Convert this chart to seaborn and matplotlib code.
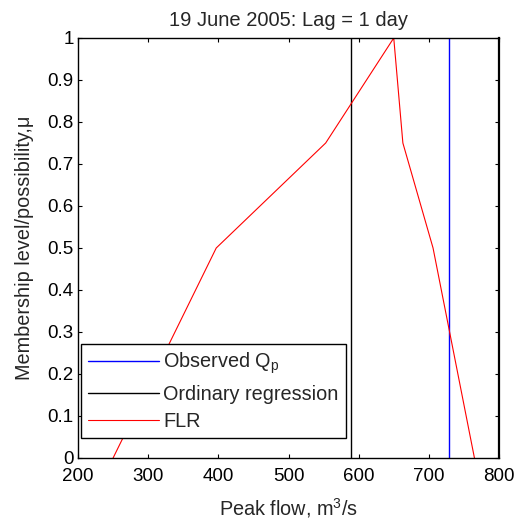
import matplotlib
matplotlib.use("Agg")
import matplotlib.pyplot as plt
import seaborn as sns
import pandas as pd

# Data
flr_x = [250, 397, 553, 650, 663, 706, 765]
flr_mu = [0.0, 0.5, 0.75, 1.0, 0.75, 0.5, 0.0]
observed_qp = 729
ordinary_regression = 589
mu_range = [0.0, 1.0]
x_ticks = [200, 300, 400, 500, 600, 700, 800]
y_ticks = [0, 0.1, 0.2, 0.3, 0.4, 0.5, 0.6, 0.7, 0.8, 0.9, 1]

sns.set_style("ticks")
plt.rcParams['font.family'] = ['Liberation Sans', 'DejaVu Sans']
plt.rcParams['mathtext.fontset'] = 'custom'
plt.rcParams['mathtext.rm'] = 'Liberation Sans'
plt.rcParams['mathtext.it'] = 'Liberation Sans'

fig = plt.figure(figsize=(5.17, 5.21), dpi=100)
ax = fig.add_axes([78/517, (521-458)/521, 421/517, 420/521])

obs_df = pd.DataFrame({"x": [observed_qp, observed_qp], "y": mu_range})
ols_df = pd.DataFrame({"x": [ordinary_regression, ordinary_regression], "y": mu_range})
flr_df = pd.DataFrame({"x": flr_x, "y": flr_mu})

sns.lineplot(data=obs_df, x="x", y="y", ax=ax, color="#0000ff", lw=1.0,
             sort=False, estimator=None, errorbar=None, label="Observed Q$_p$")
sns.lineplot(data=ols_df, x="x", y="y", ax=ax, color="black", lw=1.0,
             sort=False, estimator=None, errorbar=None, label="Ordinary regression")
sns.lineplot(data=flr_df, x="x", y="y", ax=ax, color="#ff0000", lw=0.8,
             sort=False, estimator=None, errorbar=None, label="FLR")

ax.set_xlim(200, 800)
ax.set_ylim(0, 1)
ax.set_xticks(x_ticks)
ax.set_yticks(y_ticks)
ax.set_yticklabels([f"{t:g}" for t in y_ticks])
ax.tick_params(direction="in", top=True, right=True, length=3, width=0.8,
               labelsize=13.5, colors="black", pad=3)
ax.tick_params(axis="x", pad=7)
for s in ax.spines.values():
    s.set_visible(True)
    s.set_color("black")
    s.set_linewidth(1.0)
ax.spines["right"].set_linewidth(1.6)

ax.set_title("19 June 2005: Lag = 1 day", fontsize=14.5, pad=9)
ax.set_xlabel("Peak flow, m$^3$/s", fontsize=14.3, labelpad=8)
ax.set_ylabel("Membership level/possibility,μ", fontsize=14.3, labelpad=10)

leg = ax.legend(loc="lower left", bbox_to_anchor=(0.007, 0.048), borderaxespad=0,
                fontsize=14.3, handlelength=3.6, handletextpad=0.2, labelspacing=0.42,
                frameon=True, fancybox=False, framealpha=1, edgecolor="black",
                borderpad=0.35)
leg.get_frame().set_linewidth(1.0)

fig.savefig("out.png", dpi=100)
